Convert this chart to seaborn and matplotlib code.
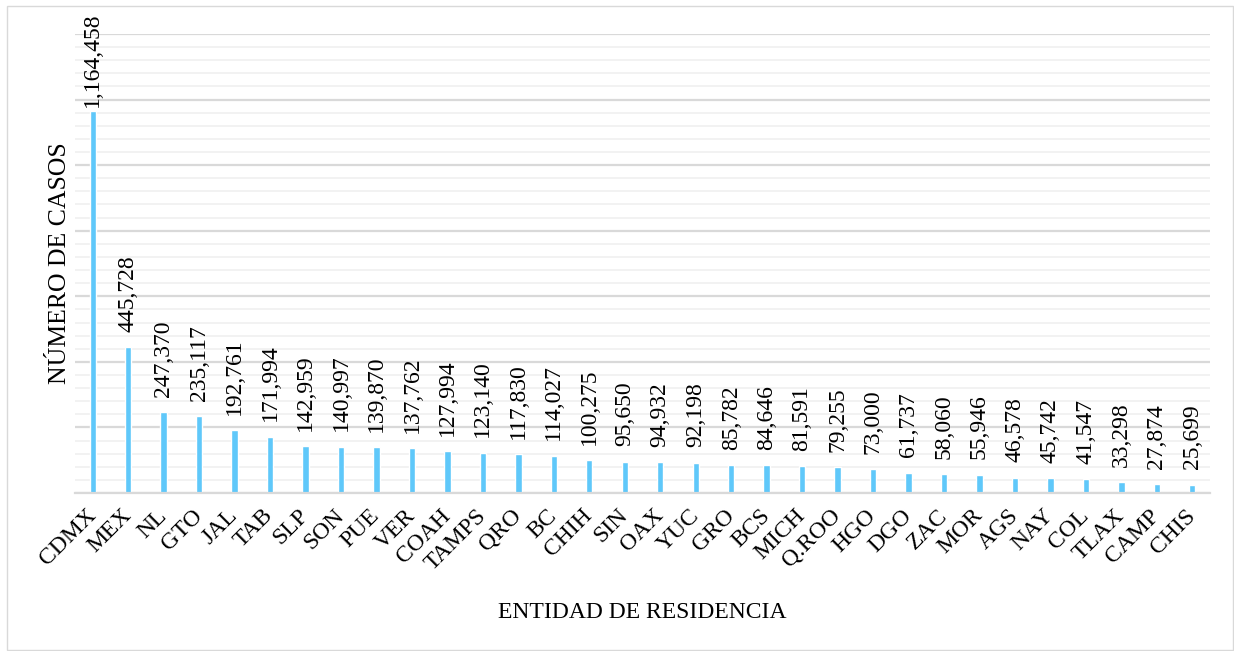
import matplotlib
matplotlib.use("Agg")
import matplotlib.pyplot as plt
import seaborn as sns
import pandas as pd
from matplotlib.ticker import MultipleLocator
from matplotlib.patches import Rectangle

# Data
estados = ["CDMX", "MEX", "NL", "GTO", "JAL", "TAB", "SLP", "SON", "PUE", "VER",
           "COAH", "TAMPS", "QRO", "BC", "CHIH", "SIN", "OAX", "YUC", "GRO", "BCS",
           "MICH", "Q.ROO", "HGO", "DGO", "ZAC", "MOR", "AGS", "NAY", "COL", "TLAX",
           "CAMP", "CHIS"]
casos = [1164458, 445728, 247370, 235117, 192761, 171994, 142959, 140997, 139870, 137762,
         127994, 123140, 117830, 114027, 100275, 95650, 94932, 92198, 85782, 84646,
         81591, 79255, 73000, 61737, 58060, 55946, 46578, 45742, 41547, 33298,
         27874, 25699]

df = pd.DataFrame({"estado": estados, "casos": casos})

sns.set_theme(style="white")
plt.rcParams['font.family'] = ['Liberation Serif', 'DejaVu Serif']
plt.rcParams['text.color'] = 'black'
plt.rcParams['axes.labelcolor'] = 'black'
plt.rcParams['xtick.color'] = 'black'

fig = plt.figure(figsize=(12.34, 6.51), dpi=100)
ax = fig.add_axes([75 / 1234, 1 - 493 / 651, 1135 / 1234, 459 / 651])

sns.barplot(data=df, x="estado", y="casos", color="#5FC8FA", width=0.18,
            saturation=1, ax=ax)

ax.set_ylim(0, 1400000)
ax.set_xlim(-0.5, len(estados) - 0.5)
ax.yaxis.set_major_locator(MultipleLocator(200000))
ax.yaxis.set_minor_locator(MultipleLocator(40000))
ax.grid(which="major", axis="y", color="#D9D9D9", linewidth=1.6,
        solid_capstyle="butt")
ax.grid(which="minor", axis="y", color="#F0F0F0", linewidth=1.2,
        solid_capstyle="butt")
ax.set_axisbelow(True)
ax.tick_params(axis="y", which="both", left=False, right=False,
               labelleft=False, length=0, width=0)
ax.tick_params(axis="x", length=0, pad=14)
for s in ["top", "right", "left"]:
    ax.spines[s].set_visible(False)
ax.spines["bottom"].set_color("#D9D9D9")
ax.spines["bottom"].set_linewidth(1.6)

ax.set_xticks(range(len(estados)))
ax.set_xticklabels(estados, rotation=45, ha="right", va="center",
                   rotation_mode="anchor", fontsize=17)

# labels sit a bit above the bars; the tallest one is pushed down to fit
for i, v in enumerate(casos):
    off = 3 if v == max(casos) else 11
    ax.annotate(f"{v:,}", (i, v), xytext=(0, off), textcoords="offset points",
                rotation=90, ha="center", va="bottom", fontsize=17)

ax.set_xlabel("ENTIDAD DE RESIDENCIA", fontsize=17, labelpad=20)
ax.set_ylabel("NÚMERO DE CASOS", fontsize=18.5, labelpad=3)

# light border around the whole chart area
fig.patches.append(Rectangle((7 / 1234, 1 / 651), 1226 / 1234, 644 / 651,
                             transform=fig.transFigure, fill=False,
                             edgecolor="#D9D9D9", linewidth=1))

fig.savefig("out.png", dpi=100)
